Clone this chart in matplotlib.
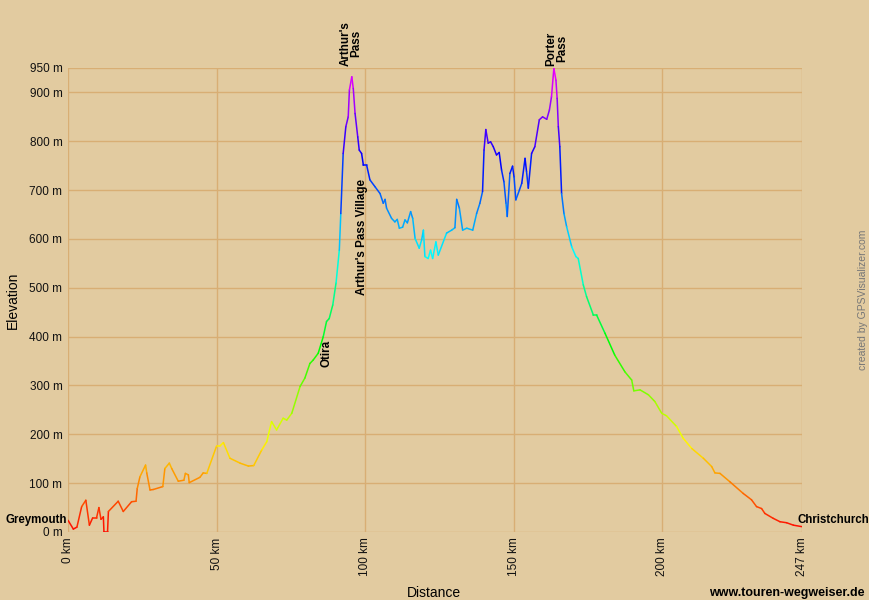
import numpy as np
import matplotlib
matplotlib.use("Agg")
import matplotlib.pyplot as plt
from matplotlib.collections import LineCollection
from matplotlib.colors import hsv_to_rgb

plt.rcParams['font.family'] = ['Liberation Sans', 'DejaVu Sans']

dist_km = [0, 1.8, 3, 4.6, 6, 7.2, 8.3, 9.6, 10.4, 11.1, 11.9, 12.1, 13.3, 13.6, 16.9, 18.6,
           21.4, 22.9, 23.3, 24.2, 26.1, 26.5, 27.6, 28.7, 31.9, 32.6, 34.1, 34.9, 37.1, 39,
           39.5, 40.5, 40.8, 44.4, 45.5, 46.7, 50, 51.1, 52.3, 54.5, 57.9, 60.7, 62.5, 65.2,
           66.9, 68.5, 70.2, 72.4, 73.6, 75.3, 78.1, 79.7, 81.4, 82.5, 84.2, 85.9, 87, 87.9,
           89.1, 90.2, 91.3, 91.8, 92.6, 93.5, 94.3, 94.7, 95.5, 96.0, 96.6, 97.5, 98, 98.8,
           99.4, 100.5, 101.6, 103.3, 105, 106.1, 106.7, 107.2, 108.9, 110, 110.8, 111.5,
           112.6, 113.4, 114.2, 115.3, 116, 116.8, 118.2, 119, 119.6, 120.1, 121.2, 122,
           122.7, 123.8, 124.6, 127.4, 129.1, 130.2, 130.8, 131.7, 132.8, 134.2, 136.2, 137.5,
           138.6, 139.5, 140, 140.6, 141.4, 142.2, 143.1, 144.2, 145.1, 145.9, 146.7, 147.4,
           147.8, 148.7, 149.6, 150.1, 150.7, 151.9, 152.7, 153.8, 154.3, 154.9, 156, 157.1,
           158.6, 159.7, 161.1, 162, 162.7, 163.5, 164.2, 164.6, 165, 165.5, 166.1, 166.9,
           167.8, 169.5, 170.9, 171.7, 173.4, 174.5, 176.8, 177.9, 180.7, 184, 187.4, 189.7,
           190.4, 192.5, 195.3, 197.5, 199.8, 201.4, 204.8, 207, 209.9, 213.8, 216.6, 217.7,
           219.4, 222.7, 227.2, 230, 231.7, 233.4, 234.5, 237.3, 239.6, 241.8, 244.1, 246.9]
elev_m = [24, 6, 10, 52, 65, 14, 29, 29, 50, 26, 31, 0, 0, 42, 63, 42,
          62, 63, 89, 113, 137, 121, 86, 87, 93, 130, 141, 130, 104, 106,
          120, 117, 101, 112, 121, 120, 176, 176, 183, 151, 141, 135, 136, 168,
          185, 226, 209, 233, 229, 243, 298, 315, 345, 352, 366, 400, 431, 437,
          465, 510, 577, 652, 775, 830, 850, 905, 932, 908, 857, 809, 782, 775,
          751, 751, 721, 707, 693, 673, 681, 663, 642, 635, 640, 622,
          624, 639, 633, 656, 642, 601, 581, 598, 618, 564, 560, 577,
          560, 594, 567, 612, 618, 623, 681, 663, 618, 622, 618, 652,
          673, 697, 782, 824, 796, 799, 789, 772, 777, 741, 717, 673,
          646, 734, 749, 727, 680, 700, 714, 765, 738, 704, 775, 789,
          844, 850, 845, 864, 891, 949, 925, 888, 830, 789, 693, 652,
          625, 584, 564, 560, 506, 482, 444, 444, 407, 362, 328, 311,
          289, 291, 281, 267, 243, 238, 216, 192, 171, 151, 134, 121,
          120, 103, 79, 66, 52, 48, 38, 28, 21, 19, 14, 11]

y_ticks = [0, 100, 200, 300, 400, 500, 600, 700, 800, 900, 950]
y_labels = ["0 m", "100 m", "200 m", "300 m", "400 m", "500 m", "600 m", "700 m", "800 m", "900 m", "950 m"]
x_ticks = [0, 50, 100, 150, 200, 247]
x_labels = ["0 km", "50 km", "100 km", "150 km", "200 km", "247 km"]

places = [("Otira", 87.1, 393), ("Arthur's Pass Village", 98.9, 722)]
passes = [("Arthur's\nPass", 95.3), ("Porter\nPass", 164.4)]

BG = '#E2CBA0'
GRID = '#D8AE74'

fig = plt.figure(figsize=(8.69, 6.0), dpi=100, facecolor=BG)
ax = fig.add_axes([68/869, 68/600, 734/869, 464/600], facecolor=BG)
ax.set_xlim(0, 247)
ax.set_ylim(0, 950)

for yt in y_ticks:
    ax.axhline(yt, color=GRID, lw=1.0, zorder=1)
for xt in x_ticks:
    ax.axvline(xt, color=GRID, lw=1.0, zorder=1)
for s in ax.spines.values():
    s.set_visible(False)

x = np.array(dist_km, dtype=float)
y = np.array(elev_m, dtype=float)
pts = np.column_stack([x, y]).reshape(-1, 1, 2)
segs = np.concatenate([pts[:-1], pts[1:]], axis=1)
mid = (y[:-1] + y[1:]) / 2.0
hues = np.clip(mid / 950.0, 0, 1) * 300.0 / 360.0
cols = hsv_to_rgb(np.column_stack([hues, np.ones_like(hues), np.ones_like(hues)]))
lc = LineCollection(segs, colors=cols, linewidths=1.1, zorder=3, capstyle='round', joinstyle='round')
ax.add_collection(lc)

ax.set_yticks(y_ticks)
ax.set_yticklabels(y_labels, fontsize=8.5)
ax.set_xticks(x_ticks)
ax.set_xticklabels(x_labels, fontsize=8.5, rotation=90)
ax.tick_params(length=0, pad=4, colors='#111111')

fig.text(13/869, 1 - 300/600, "Elevation", rotation=90, ha='center', va='center', fontsize=10)
fig.text(434/869, 1 - 593/600, "Distance", ha='center', va='center', fontsize=10)
fig.text(865/869, 1 - 593/600, "www.touren-wegweiser.de", ha='right', va='center', fontsize=9, fontweight='bold')
fig.text(863/869, 1 - 300/600, "created by GPSVisualizer.com", rotation=90, ha='center', va='center',
         fontsize=7.5, color='#777777')
fig.text(5/869, 1 - 520/600, "Greymouth", ha='left', va='center', fontsize=8.3, fontweight='bold')
fig.text(798/869, 1 - 520/600, "Christchurch", ha='left', va='center', fontsize=8.3, fontweight='bold')

for name, xv in passes:
    ax.text(xv, 955, name, rotation=90, ha='center', va='bottom', fontsize=8.4, fontweight='bold',
            linespacing=0.85, clip_on=False)
for name, xv, yv in places:
    ax.text(xv, yv, name, rotation=90, ha='center', va='top', fontsize=8.4, fontweight='bold')

fig.savefig("out.png", dpi=100, facecolor=BG)
